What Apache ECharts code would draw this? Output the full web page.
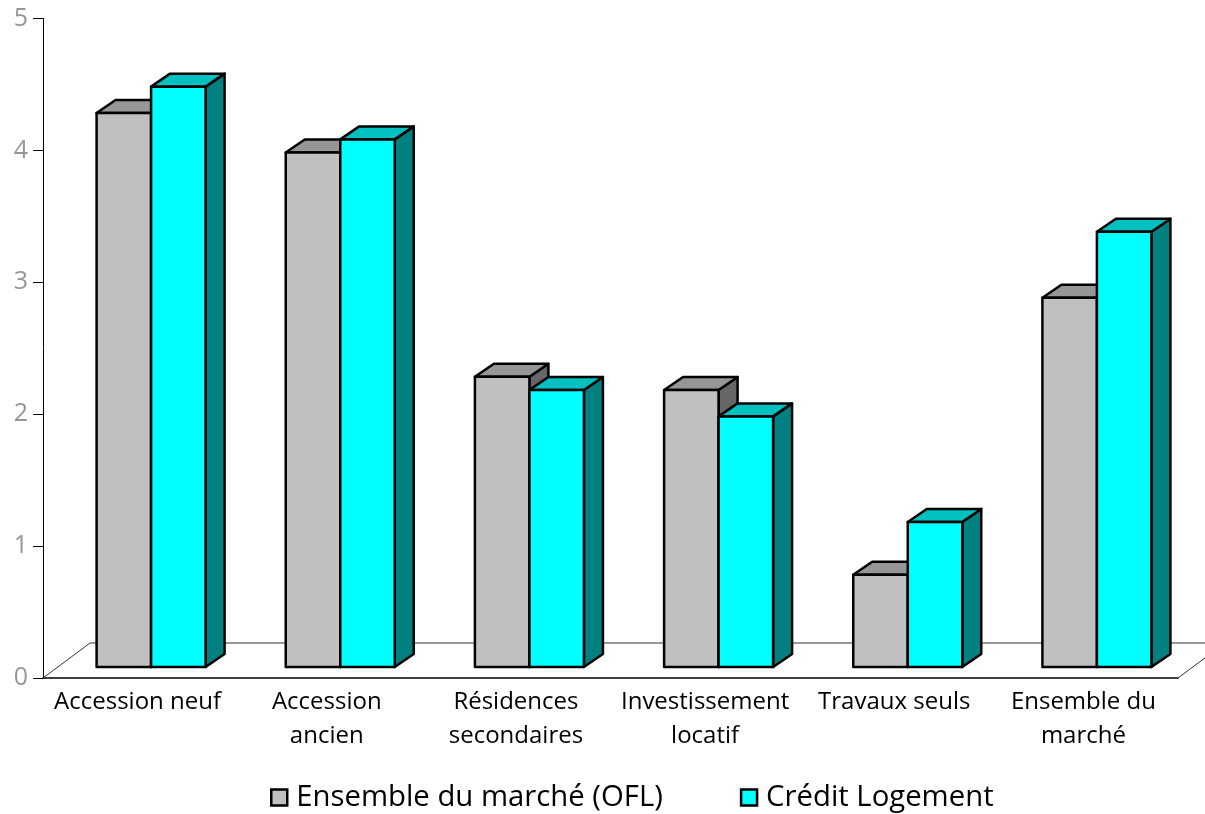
<!DOCTYPE html>
<html>
<head>
<meta charset="utf-8">
<style>html,body{margin:0;padding:0;background:#fff}#chart{width:1205px;height:814px}</style>
<script src="https://cdn.jsdelivr.net/npm/echarts@6/dist/echarts.min.js"></script>
</head>
<body>
<div id="chart"></div>
<script>
// Categories and series values
const categories = ['Accession neuf', 'Accession\nancien', 'Résidences\nsecondaires', 'Investissement\nlocatif', 'Travaux seuls', 'Ensemble du\nmarché'];
const marketValues = [4.2, 3.9, 2.2, 2.1, 0.7, 2.8];
const creditLogementValues = [4.4, 4.0, 2.1, 1.9, 1.1, 3.3];
const yTicks = [0, 1, 2, 3, 4, 5];
const seriesNames = ['Ensemble du marché (OFL)', 'Crédit Logement'];

const FONT = '"Open Sans", "Noto Sans", sans-serif';

// Pseudo-3D projection: oblique depth of the floor and of each bar
const FLOOR_DX = 47, FLOOR_DY = 35;
const BAR_DX = 19, BAR_DY = 13;
const FRONT_SHIFT_X = 13.5, FRONT_SHIFT_Y = 11;
const BAR_WIDTH = 54.5;

const stroke = { stroke: '#000', lineWidth: 2.5, lineJoin: 'round' };

function poly(points, fill) {
  return { type: 'polygon', shape: { points }, style: { fill, ...stroke } };
}

// Draws one extruded bar; side = -1 sits left of the band centre, 0 right of it
function boxRenderer(side, colors) {
  return function (params, api) {
    const p = api.coord([api.value(0), api.value(1)]);
    const base = api.coord([api.value(0), 0]);
    const x0 = p[0] + FRONT_SHIFT_X + side * BAR_WIDTH;
    const x1 = x0 + BAR_WIDTH;
    const top = p[1] - FRONT_SHIFT_Y;
    const bot = base[1] - FRONT_SHIFT_Y;
    return {
      type: 'group',
      children: [
        poly([[x1, top], [x1 + BAR_DX, top - BAR_DY], [x1 + BAR_DX, bot - BAR_DY], [x1, bot]], colors.side),
        poly([[x0, top], [x0 + BAR_DX, top - BAR_DY], [x1 + BAR_DX, top - BAR_DY], [x1, top]], colors.top),
        poly([[x0, top], [x1, top], [x1, bot], [x0, bot]], colors.front)
      ]
    };
  };
}

// Floor outline behind the bars
function floorRenderer(params) {
  const c = params.coordSys;
  const yb = c.y + c.height, xl = c.x, xr = c.x + c.width;
  return {
    type: 'polyline',
    shape: { points: [[xl, yb], [xl + FLOOR_DX, yb - FLOOR_DY], [xr + FLOOR_DX, yb - FLOOR_DY], [xr, yb]] },
    style: { fill: null, stroke: '#333', lineWidth: 1 },
    silent: true
  };
}

const gray = { front: '#C0C0C0', top: '#969696', side: '#666666' };
const cyan = { front: '#00FFFF', top: '#00C0C0', side: '#008080' };

const chart = echarts.init(document.getElementById('chart'), null, { renderer: 'canvas' });
chart.setOption({
  animation: false,
  backgroundColor: '#fff',
  grid: { left: 43, top: 18.5, width: 1135, height: 659.5, containLabel: false },
  legend: {
    left: 265, top: 778, itemWidth: 16, itemHeight: 16, itemGap: 77,
    selectedMode: false,
    textStyle: { fontFamily: FONT, fontSize: 29.3, color: '#000', padding: [0, 0, 0, 4] },
    data: [
      { name: seriesNames[0], icon: 'rect', itemStyle: { color: gray.front, borderColor: '#000', borderWidth: 2.5 } },
      { name: seriesNames[1], icon: 'rect', itemStyle: { color: cyan.front, borderColor: '#000', borderWidth: 2.5 } }
    ]
  },
  xAxis: {
    type: 'category',
    data: categories,
    axisTick: { show: false },
    axisLine: { lineStyle: { color: '#000', width: 1.5 } },
    axisLabel: { interval: 0, margin: 7, fontFamily: FONT, fontSize: 24, lineHeight: 34, color: '#000', verticalAlign: 'top' }
  },
  yAxis: {
    type: 'value', min: yTicks[0], max: yTicks[yTicks.length - 1], interval: 1,
    splitLine: { show: false },
    axisLine: { show: true, lineStyle: { color: '#000', width: 1 } },
    axisTick: { show: true, length: 10, lineStyle: { color: '#000', width: 1 } },
    axisLabel: { margin: 15, fontFamily: FONT, fontSize: 25, color: '#969696', padding: [2, 0, 0, 0] }
  },
  series: [
    { type: 'custom', name: 'floor', renderItem: floorRenderer, data: [[0, 0]], clip: false, silent: true, z: 1, encode: { x: 0, y: 1 } },
    {
      type: 'custom', name: seriesNames[0], z: 2, clip: false,
      renderItem: boxRenderer(-1, gray), encode: { x: 0, y: 1 },
      itemStyle: { color: gray.front },
      data: marketValues.map((v, i) => [i, v])
    },
    {
      type: 'custom', name: seriesNames[1], z: 3, clip: false,
      renderItem: boxRenderer(0, cyan), encode: { x: 0, y: 1 },
      itemStyle: { color: cyan.front },
      data: creditLogementValues.map((v, i) => [i, v])
    }
  ]
});
</script>
</body>
</html>
